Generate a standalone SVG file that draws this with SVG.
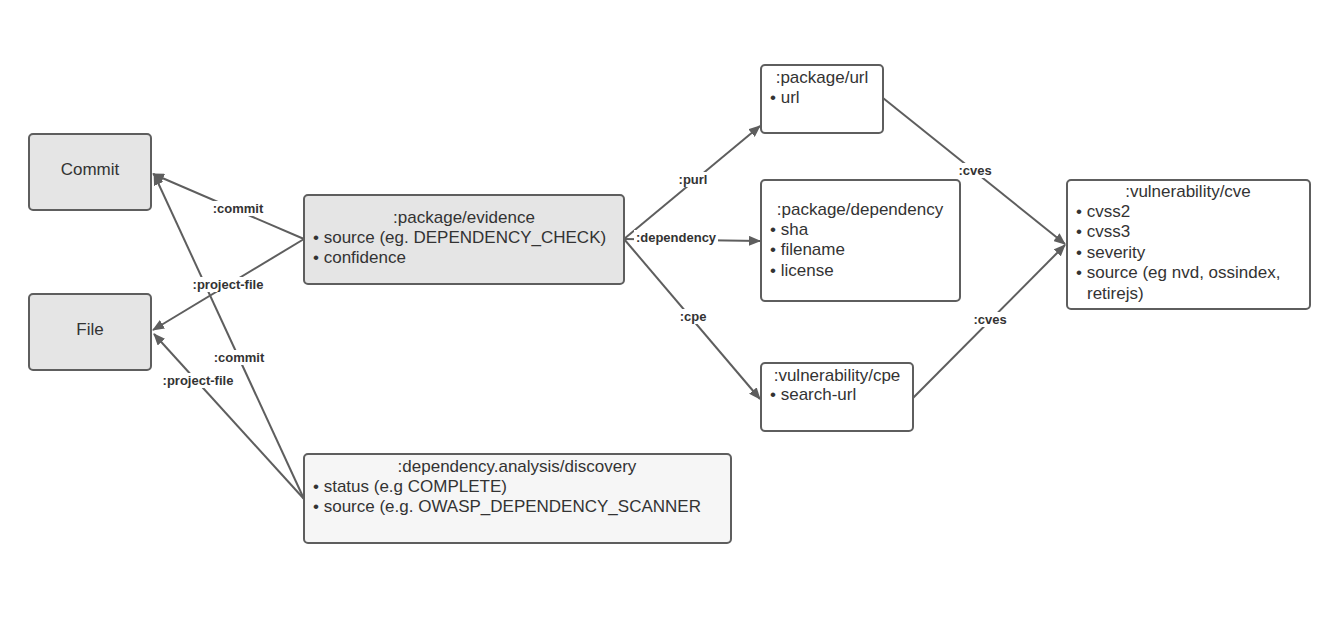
<svg xmlns="http://www.w3.org/2000/svg" width="1340" height="628" viewBox="0 0 1340 628">
<defs>
<marker id="arr" viewBox="0 0 12 10" refX="11" refY="5" markerWidth="12" markerHeight="10" markerUnits="userSpaceOnUse" orient="auto">
<path d="M0,0 L12,5 L0,10 Z" fill="#5e5e5e"/>
</marker>
<style>
.box{stroke:#5e5e5e;stroke-width:2}
.g{fill:#e5e5e5}
.w{fill:#ffffff}
.l{fill:#f6f6f6}
.t{font-family:"Liberation Sans",Arial,sans-serif;font-size:17px;fill:#333333}
.c{text-anchor:middle}
.e{stroke:#5e5e5e;stroke-width:2;fill:none;marker-end:url(#arr)}
.lb{font-family:"Liberation Sans",Arial,sans-serif;font-size:13px;font-weight:bold;fill:#333333;text-anchor:middle}
.bg{fill:#ffffff}
</style>
</defs>
<rect width="1340" height="628" fill="#ffffff"/>
<g id="connectors">
<line class="e" x1="304" y1="239" x2="153" y2="174"/>
<line class="e" x1="304" y1="239" x2="153" y2="330"/>
<line class="e" x1="304" y1="499" x2="154" y2="174"/>
<line class="e" x1="304" y1="499" x2="154" y2="334"/>
<line class="e" x1="624" y1="239" x2="760" y2="126"/>
<line class="e" x1="624" y1="239" x2="760" y2="241"/>
<line class="e" x1="624" y1="239" x2="760" y2="399"/>
<line class="e" x1="883" y1="98" x2="1065" y2="244"/>
<line class="e" x1="913" y1="398" x2="1065" y2="245"/>
<rect class="bg" x="208" y="201" width="60" height="15"/>
<text class="lb" x="238" y="213">:commit</text>
<rect class="bg" x="187" y="277" width="82" height="15"/>
<text class="lb" x="228" y="289">:project-file</text>
<rect class="bg" x="209" y="350" width="60" height="15"/>
<text class="lb" x="239" y="362">:commit</text>
<rect class="bg" x="157" y="373" width="82" height="15"/>
<text class="lb" x="198" y="385">:project-file</text>
<rect class="bg" x="675" y="172" width="36" height="15"/>
<text class="lb" x="693" y="184">:purl</text>
<rect class="bg" x="634" y="230" width="84" height="15"/>
<text class="lb" x="676" y="242">:dependency</text>
<rect class="bg" x="676" y="309" width="34" height="15"/>
<text class="lb" x="693" y="321">:cpe</text>
<rect class="bg" x="955" y="163" width="40" height="15"/>
<text class="lb" x="975" y="175">:cves</text>
<rect class="bg" x="970" y="312" width="40" height="15"/>
<text class="lb" x="990" y="324">:cves</text>
</g>
<g id="commit">
<rect class="box g" x="29" y="134" width="122" height="76" rx="4"/>
<text class="t c" x="90" y="175">Commit</text>
</g>
<g id="file">
<rect class="box g" x="29" y="294" width="122" height="76" rx="4"/>
<text class="t c" x="90" y="335">File</text>
</g>
<g id="evidence">
<rect class="box g" x="304" y="195" width="320" height="89" rx="4"/>
<text class="t c" x="464" y="223">:package/evidence</text>
<text class="t" x="313" y="243">• source (eg. DEPENDENCY_CHECK)</text>
<text class="t" x="313" y="263">• confidence</text>
</g>
<g id="discovery">
<rect class="box l" x="304" y="454" width="427" height="89" rx="4"/>
<text class="t c" x="517" y="472">:dependency.analysis/discovery</text>
<text class="t" x="313" y="492">• status (e.g COMPLETE)</text>
<text class="t" x="313" y="512">• source (e.g. OWASP_DEPENDENCY_SCANNER</text>
</g>
<g id="package-url">
<rect class="box w" x="761" y="65" width="122" height="68" rx="4"/>
<text class="t c" x="822" y="83">:package/url</text>
<text class="t" x="770" y="103">• url</text>
</g>
<g id="package-dependency">
<rect class="box w" x="761" y="180" width="199" height="121" rx="4"/>
<text class="t c" x="860" y="215">:package/dependency</text>
<text class="t" x="770" y="235">• sha</text>
<text class="t" x="770" y="255">• filename</text>
<text class="t" x="770" y="276">• license</text>
</g>
<g id="vulnerability-cpe">
<rect class="box w" x="761" y="363" width="152" height="68" rx="4"/>
<text class="t c" x="837" y="381">:vulnerability/cpe</text>
<text class="t" x="770" y="400">• search-url</text>
</g>
<g id="vulnerability-cve">
<rect class="box w" x="1067" y="180" width="243" height="129" rx="4"/>
<text class="t c" x="1188" y="197">:vulnerability/cve</text>
<text class="t" x="1076" y="217">• cvss2</text>
<text class="t" x="1076" y="237">• cvss3</text>
<text class="t" x="1076" y="258">• severity</text>
<text class="t" x="1076" y="278">• source (eg nvd, ossindex,</text>
<text class="t" x="1087" y="299">retirejs)</text>
</g>
</svg>
